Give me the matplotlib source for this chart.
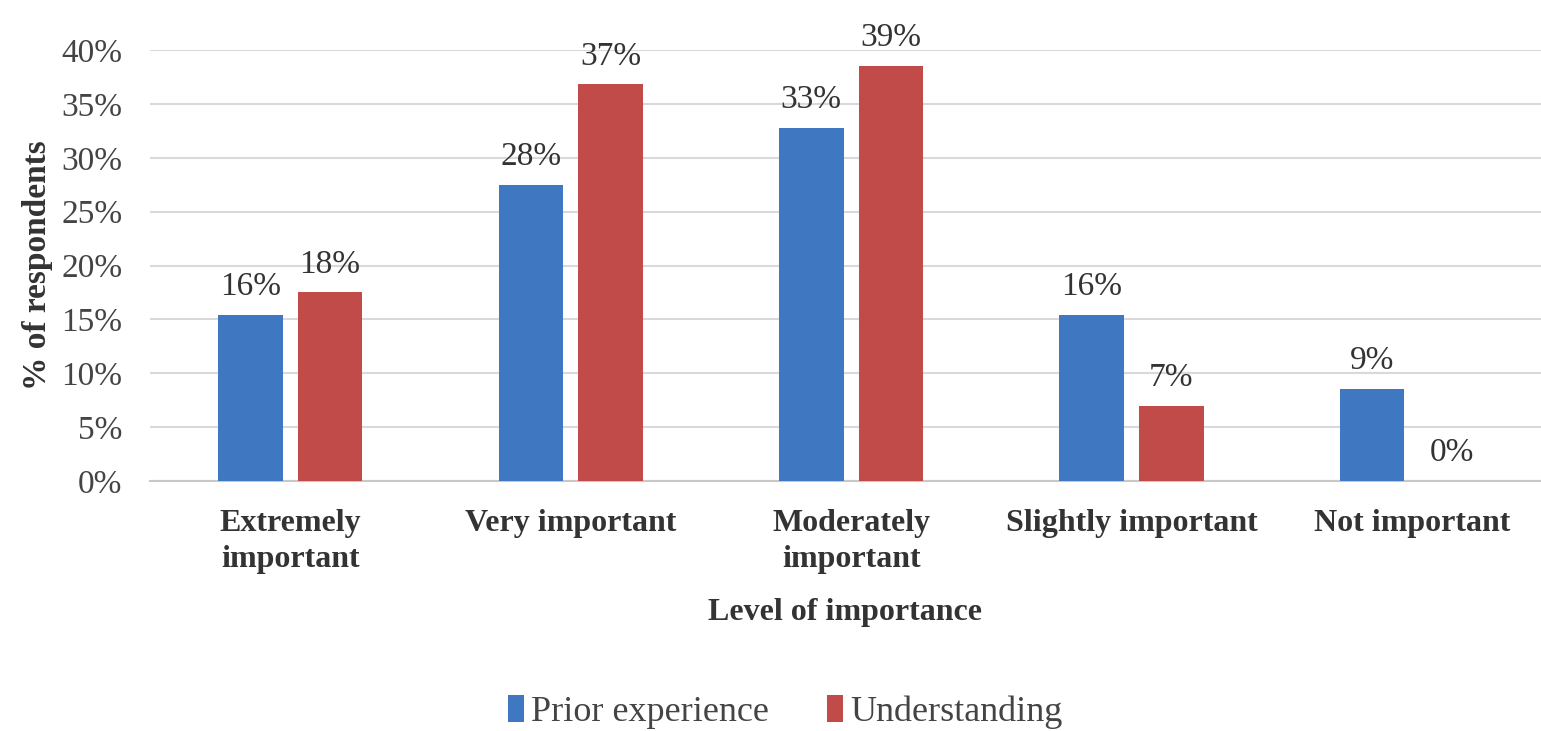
import matplotlib.pyplot as plt
import numpy as np

categories = ["Extremely\nimportant", "Very important", "Moderately\nimportant",
              "Slightly important", "Not important"]
prior = [15.4, 27.5, 32.8, 15.4, 8.5]
understanding = [17.5, 36.8, 38.5, 7.0, 0.0]
prior_labels = ["16%", "28%", "33%", "16%", "9%"]
under_labels = ["18%", "37%", "39%", "7%", "0%"]

plt.rcParams['font.family'] = ['Liberation Serif', 'DejaVu Serif']

fig = plt.figure(figsize=(15.41, 7.31), dpi=100)
ax = fig.add_axes([150/1541, 1 - 481/731, 1391/1541, 431/731])

x = np.arange(len(categories))
w = 0.23
off = 0.142
blue = "#3F78C1"
red = "#C04B48"
b1 = ax.bar(x - off, prior, w, color=blue, label="Prior experience", zorder=3)
b2 = ax.bar(x + off, understanding, w, color=red, label="Understanding", zorder=3)

for rect, lab in zip(b1, prior_labels):
    ax.text(rect.get_x() + rect.get_width()/2, rect.get_height() + 1.2, lab,
            ha="center", va="bottom", fontsize=24, color="#333333")
for rect, lab in zip(b2, under_labels):
    ax.text(rect.get_x() + rect.get_width()/2, rect.get_height() + 1.2, lab,
            ha="center", va="bottom", fontsize=24, color="#333333")

ax.set_xlim(-0.5, 4.46)
ax.set_ylim(0, 40)
ax.set_yticks(np.arange(0, 41, 5))
ax.set_yticklabels([f"{v}%" for v in range(0, 41, 5)], fontsize=24, color="#444444")
ax.set_xticks(x)
ax.set_xticklabels(categories, fontsize=23, fontweight="bold", color="#333333",
                   linespacing=1.35)
ax.tick_params(axis="both", length=0)
ax.tick_params(axis="x", pad=20)
ax.tick_params(axis="y", pad=20)
ax.grid(axis="y", color="#D9D9D9", linewidth=1.5, zorder=0)
for s in ["top", "right", "left"]:
    ax.spines[s].set_visible(False)
ax.spines["bottom"].set_color("#C8C8C8")
ax.spines["bottom"].set_linewidth(1.5)

ax.set_xlabel("Level of importance", fontsize=23, fontweight="bold", color="#333333",
              labelpad=17)
ax.set_ylabel("% of respondents", fontsize=24, fontweight="bold", color="#333333",
              labelpad=6)

fig.legend(loc="center", bbox_to_anchor=(785/1541, 1 - 712/731), ncol=2,
           frameon=False, fontsize=26, handlelength=0.45, handleheight=0.75,
           handletextpad=0.2, columnspacing=1.6, labelcolor="#444444")

fig.savefig("out.png", dpi=100)
